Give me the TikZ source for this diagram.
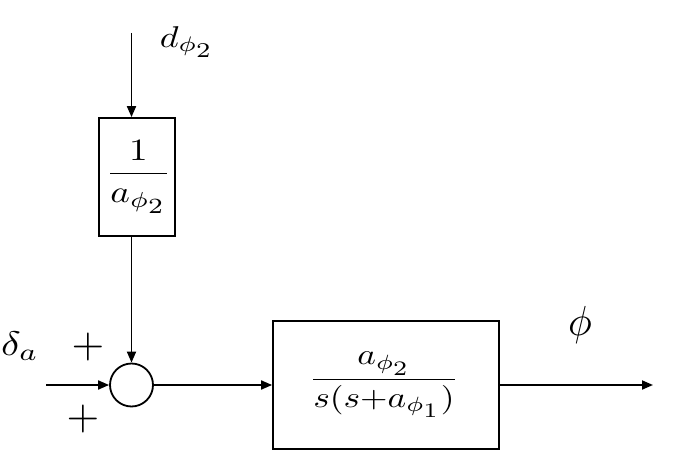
\documentclass[tikz,border=0pt]{standalone}
\usetikzlibrary{arrows.meta}
\tikzset{
  conn/.style={line width=1.8pt,-{Triangle[length=11pt,width=9pt]}},
  blk/.style={draw,line width=1.8pt,inner sep=0pt},
  lab/.style={inner sep=0pt,scale=3.1,xscale=1.2},
  sgn/.style={inner sep=0pt,scale=4.2},
}
\begin{document}
\begin{tikzpicture}[x=1pt,y=-1pt]
\useasboundingbox (0,0) rectangle (680,468);
\node[blk,minimum width=76pt,minimum height=118pt] (g1) at (137,177) {};
\node[lab] (t1) at (138.5,177) {$\displaystyle\frac{1}{a_{\phi_{\scriptstyle 2}}}$};
\node[blk,circle,minimum size=43pt] (sum) at (131.5,385) {};
\coordinate (din) at (131.5,33);
\coordinate (uin) at (46,385);
\node[blk,minimum width=226pt,minimum height=128pt] (g2) at (386,385) {};
\node[lab,scale=0.95] (t2) at (384,385) {$\displaystyle\frac{a_{\phi_{\scriptstyle 2}}}{s(s{+}a_{\phi_{\scriptstyle 1}})}$};
\coordinate (yout) at (653,385);
\draw[conn] (din) -- (din |- g1.north);
\draw[conn] (sum |- g1.south) -- (sum.north);
\draw[conn] (uin) -- (sum.west);
\draw[conn] (sum.east) -- (g2.west);
\draw[conn] (g2.east) -- (yout);
\node[lab,scale=0.97] (ld) at (187,42) {$d_{\phi_{\scriptstyle 2}}$};
\node[lab,scale=1.1] (lu) at (20,346) {$\delta_{a}$};
\node[sgn] (p1) at (88,347) {$+$};
\node[sgn] (p2) at (83,419) {$+$};
\node[inner sep=0pt,scale=4.2,xscale=0.95] (ly) at (580,325) {$\phi$};
\end{tikzpicture}
\end{document}
